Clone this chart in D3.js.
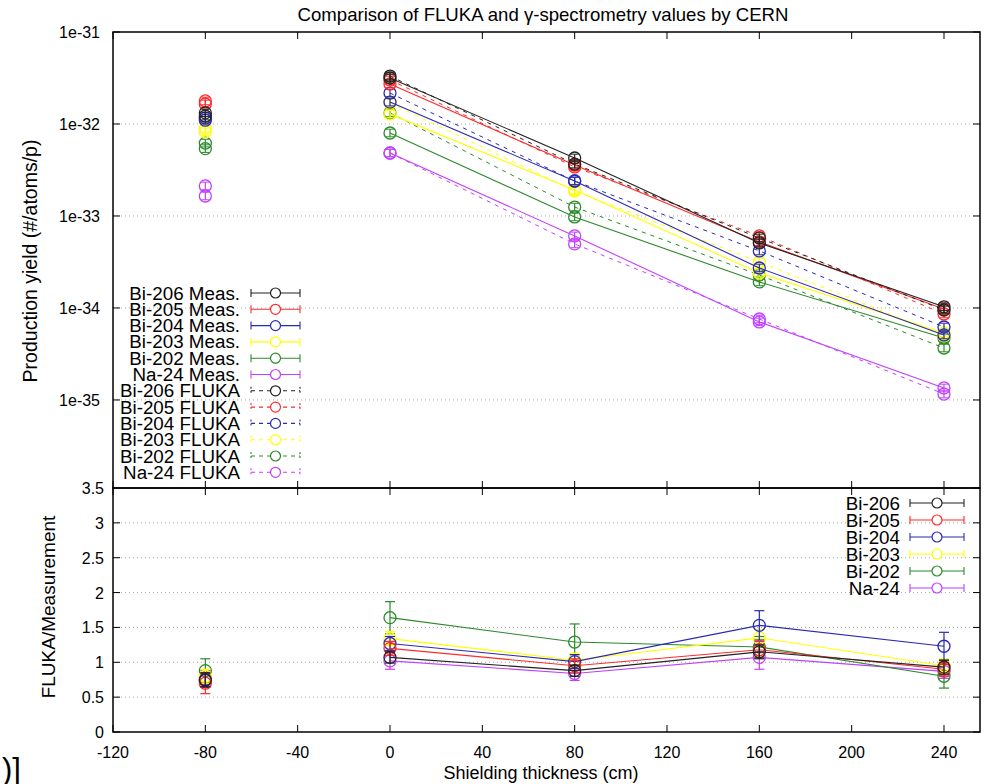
<!DOCTYPE html>
<html><head><meta charset="utf-8">
<script src="https://cdn.jsdelivr.net/npm/d3@7"></script>
<style>
body{margin:0;background:#fff;}
svg{display:block;font-family:"Liberation Sans",Arial,Helvetica,sans-serif;}
</style></head>
<body><svg id="chart" width="991" height="784"></svg>
<script>
// ---------- data ----------
const isotopes = ["Bi-206","Bi-205","Bi-204","Bi-203","Bi-202","Na-24"];
const colors = ["#222222","#ff2a2a","#2a2ab4","#ffff00","#2a8a2a","#c040ff"];
const thickness = [-80, 0, 80, 160, 240];
const xTicks = [-120,-80,-40,0,40,80,120,160,200,240];
const yTopTicks = [1e-31,1e-32,1e-33,1e-34,1e-35];
const yTopTickLabels = ["1e-31","1e-32","1e-33","1e-34","1e-35"];
const yBotTicks = [0,0.5,1,1.5,2,2.5,3,3.5];
const yBotTickLabels = ["0","0.5","1","1.5","2","2.5","3","3.5"];

const measBi206 = [1.32e-32, 3.16e-32, 4.27e-33, 5.09e-34, 1.03e-34];
const measBi205 = [1.78e-32, 2.72e-32, 3.58e-33, 5.22e-34, 9.76e-35];
const measBi204 = [1.16e-32, 1.73e-32, 2.40e-33, 2.72e-34, 5.09e-35];
const measBi203 = [9.0e-33, 1.28e-32, 1.92e-33, 2.40e-34, 5.35e-35];
const measBi202 = [6.2e-33, 7.98e-33, 9.76e-34, 1.92e-34, 4.72e-35];
const measNa24  = [2.12e-33, 4.84e-33, 6.07e-34, 7.05e-35, 1.35e-35];

const flukaBi206 = [1.22e-32, 3.32e-32, 3.67e-33, 5.77e-34, 9.51e-35];
const flukaBi205 = [1.65e-32, 3.01e-32, 3.41e-33, 6.07e-34, 8.60e-35];
const flukaBi204 = [1.10e-32, 2.17e-32, 2.40e-33, 4.17e-34, 6.21e-35];
const flukaBi203 = [8.2e-33, 1.69e-32, 1.87e-33, 3.16e-34, 4.97e-35];
const flukaBi202 = [5.4e-33, 1.32e-32, 1.25e-33, 2.28e-34, 3.67e-35];
const flukaNa24  = [1.65e-33, 4.84e-33, 4.97e-34, 7.59e-35, 1.16e-35];

const ratioBi206 = [0.75, 1.07, 0.88, 1.15, 0.93];
const ratioBi205 = [0.70, 1.20, 0.95, 1.18, 0.90];
const ratioBi204 = [0.74, 1.27, 1.01, 1.53, 1.23];
const ratioBi203 = [0.80, 1.34, 1.03, 1.35, 0.95];
const ratioBi202 = [0.88, 1.64, 1.29, 1.22, 0.80];
const ratioNa24  = [0.78, 1.02, 0.84, 1.07, 0.87];

const ratioErrBi206 = [0.10, 0.08, 0.08, 0.10, 0.10];
const ratioErrBi205 = [0.15, 0.10, 0.10, 0.12, 0.10];
const ratioErrBi204 = [0.10, 0.10, 0.10, 0.21, 0.20];
const ratioErrBi203 = [0.10, 0.10, 0.10, 0.12, 0.10];
const ratioErrBi202 = [0.17, 0.23, 0.26, 0.15, 0.17];
const ratioErrNa24  = [0.10, 0.12, 0.10, 0.17, 0.10];

const meas = [measBi206, measBi205, measBi204, measBi203, measBi202, measNa24];
const fluka = [flukaBi206, flukaBi205, flukaBi204, flukaBi203, flukaBi202, flukaNa24];
const ratio = [ratioBi206, ratioBi205, ratioBi204, ratioBi203, ratioBi202, ratioNa24];
const ratioErr = [ratioErrBi206, ratioErrBi205, ratioErrBi204, ratioErrBi203, ratioErrBi202, ratioErrNa24];

// ---------- layout ----------
const L = 113, R = 980, T = 32, MID = 488, B = 732;
const svg = d3.select("#chart");
const x = d3.scaleLinear().domain([-120, 255.6]).range([L, R]);
const yTop = d3.scaleLog().domain([Math.pow(10, -35.957), 1e-31]).range([MID, T]);
const yBot = d3.scaleLinear().domain([0, 3.5]).range([B, MID]);

// grid
const grid = svg.append("g").attr("stroke", "#a8a8a8").attr("stroke-width", 1).attr("stroke-dasharray", "1,3");
yTopTicks.slice(1).forEach(v => grid.append("line").attr("x1", L).attr("x2", R).attr("y1", yTop(v)).attr("y2", yTop(v)));
yBotTicks.slice(1, -1).forEach(v => grid.append("line").attr("x1", L).attr("x2", R).attr("y1", yBot(v)).attr("y2", yBot(v)));

// axes ticks & labels
const tk = svg.append("g").attr("stroke", "#000").attr("stroke-width", 1);
yTopTicks.forEach(v => { tk.append("line").attr("x1", L).attr("x2", L + 7).attr("y1", yTop(v)).attr("y2", yTop(v));
  tk.append("line").attr("x1", R).attr("x2", R - 7).attr("y1", yTop(v)).attr("y2", yTop(v)); });
yBotTicks.forEach(v => { tk.append("line").attr("x1", L).attr("x2", L + 7).attr("y1", yBot(v)).attr("y2", yBot(v));
  tk.append("line").attr("x1", R).attr("x2", R - 7).attr("y1", yBot(v)).attr("y2", yBot(v)); });
xTicks.forEach(v => { tk.append("line").attr("x1", x(v)).attr("x2", x(v)).attr("y1", B).attr("y2", B - 7);
  tk.append("line").attr("x1", x(v)).attr("x2", x(v)).attr("y1", MID).attr("y2", MID + 7);
  tk.append("line").attr("x1", x(v)).attr("x2", x(v)).attr("y1", MID).attr("y2", MID - 7);
  tk.append("line").attr("x1", x(v)).attr("x2", x(v)).attr("y1", T).attr("y2", T + 7); });

const lab = svg.append("g").attr("font-size", "16px").attr("fill", "#000");
yTopTicks.forEach((v, i) => lab.append("text").attr("x", L - 13).attr("y", yTop(v) + 6).attr("text-anchor", "end").text(yTopTickLabels[i]));
yBotTicks.forEach((v, i) => lab.append("text").attr("x", L - 9).attr("y", yBot(v) + 6).attr("text-anchor", "end").text(yBotTickLabels[i]));
xTicks.forEach(v => lab.append("text").attr("x", x(v)).attr("y", B + 26).attr("text-anchor", "middle").text(v));

// borders
svg.append("rect").attr("x", L).attr("y", T).attr("width", R - L).attr("height", MID - T).attr("fill", "none").attr("stroke", "#000").attr("stroke-width", 1.5);
svg.append("rect").attr("x", L).attr("y", MID).attr("width", R - L).attr("height", B - MID).attr("fill", "none").attr("stroke", "#000").attr("stroke-width", 1.5);

// titles
svg.append("text").attr("x", 543).attr("y", 21).attr("text-anchor", "middle").attr("font-size", "18.6px").text("Comparison of FLUKA and γ-spectrometry values by CERN");
svg.append("text").attr("transform", "translate(37,261) rotate(-90)").attr("text-anchor", "middle").attr("font-size", "19.5px").text("Production yield (#/atoms/p)");
svg.append("text").attr("transform", "translate(55,607) rotate(-90)").attr("text-anchor", "middle").attr("font-size", "19px").text("FLUKA/Measurement");
svg.append("text").attr("x", 541).attr("y", 779).attr("text-anchor", "middle").attr("font-size", "18px").text("Shielding thickness (cm)");
svg.append("text").attr("x", 2).attr("y", 780).attr("font-size", "31px").text(")]");

// ---------- data marks ----------
const R0 = 6;
const lineIdx = [1, 2, 3, 4];
const gTop = svg.append("g");
for (let s = isotopes.length - 1; s >= 0; s--) {
  const c = colors[s];
  const lineM = d3.line().x(i => x(thickness[i])).y(i => yTop(meas[s][i]));
  const lineF = d3.line().x(i => x(thickness[i])).y(i => yTop(fluka[s][i]));
  gTop.append("path").attr("d", lineF(lineIdx)).attr("fill", "none").attr("stroke", c).attr("stroke-width", 1).attr("stroke-dasharray", "4,5");
  gTop.append("path").attr("d", lineM(lineIdx)).attr("fill", "none").attr("stroke", c).attr("stroke-width", 1.1);
  thickness.forEach((t, i) => {
    [meas[s][i], fluka[s][i]].forEach(v => {
      const cx = x(t), cy = yTop(v);
      gTop.append("line").attr("x1", cx).attr("x2", cx).attr("y1", yTop(v * 1.1)).attr("y2", yTop(v / 1.1)).attr("stroke", c).attr("stroke-width", 1.2);
      gTop.append("line").attr("x1", cx - 4).attr("x2", cx + 4).attr("y1", yTop(v * 1.1)).attr("y2", yTop(v * 1.1)).attr("stroke", c);
      gTop.append("line").attr("x1", cx - 4).attr("x2", cx + 4).attr("y1", yTop(v / 1.1)).attr("y2", yTop(v / 1.1)).attr("stroke", c);
      gTop.append("circle").attr("cx", cx).attr("cy", cy).attr("r", R0).attr("fill", "none").attr("stroke", c).attr("stroke-width", 1.3);
    });
  });
}

const gBot = svg.append("g");
for (let s = isotopes.length - 1; s >= 0; s--) {
  const c = colors[s];
  const ln = d3.line().x(i => x(thickness[i])).y(i => yBot(ratio[s][i]));
  gBot.append("path").attr("d", ln(lineIdx)).attr("fill", "none").attr("stroke", c).attr("stroke-width", 1.1);
  thickness.forEach((t, i) => {
    const cx = x(t), v = ratio[s][i], e = ratioErr[s][i];
    gBot.append("line").attr("x1", cx).attr("x2", cx).attr("y1", yBot(v + e)).attr("y2", yBot(v - e)).attr("stroke", c).attr("stroke-width", 1.2);
    gBot.append("line").attr("x1", cx - 5).attr("x2", cx + 5).attr("y1", yBot(v + e)).attr("y2", yBot(v + e)).attr("stroke", c).attr("stroke-width", 1.2);
    gBot.append("line").attr("x1", cx - 5).attr("x2", cx + 5).attr("y1", yBot(v - e)).attr("y2", yBot(v - e)).attr("stroke", c).attr("stroke-width", 1.2);
    gBot.append("circle").attr("cx", cx).attr("cy", yBot(v)).attr("r", R0).attr("fill", "none").attr("stroke", c).attr("stroke-width", 1.3);
  });
}

// ---------- legends ----------
function legendRow(g, tx, ty, label, c, dashed, x0, x1) {
  g.append("text").attr("x", tx).attr("y", ty + 6.5).attr("text-anchor", "end").attr("font-size", "18.8px").text(label);
  const da = dashed ? "4,4" : null;
  g.append("line").attr("x1", x0).attr("x2", x1).attr("y1", ty).attr("y2", ty).attr("stroke", c).attr("stroke-width", 1.1).attr("stroke-dasharray", da);
  [x0, x1].forEach(xx => g.append("line").attr("x1", xx).attr("x2", xx).attr("y1", ty - 4).attr("y2", ty + 4).attr("stroke", c).attr("stroke-width", 1.1).attr("stroke-dasharray", dashed ? "2,2" : null));
  g.append("circle").attr("cx", (x0 + x1) / 2).attr("cy", ty).attr("r", 5).attr("fill", "#fff").attr("stroke", c).attr("stroke-width", 1.2);
}
const lg = svg.append("g");
isotopes.forEach((n, s) => legendRow(lg, 240, 293 + s * 16.3, n + " Meas.", colors[s], false, 251, 300));
isotopes.forEach((n, s) => legendRow(lg, 240, 293 + (s + 6) * 16.3, n + " FLUKA", colors[s], true, 251, 300));
const lg2 = svg.append("g");
isotopes.forEach((n, s) => legendRow(lg2, 900, 503 + s * 17, n, colors[s], false, 910, 964));
</script>
</body></html>
